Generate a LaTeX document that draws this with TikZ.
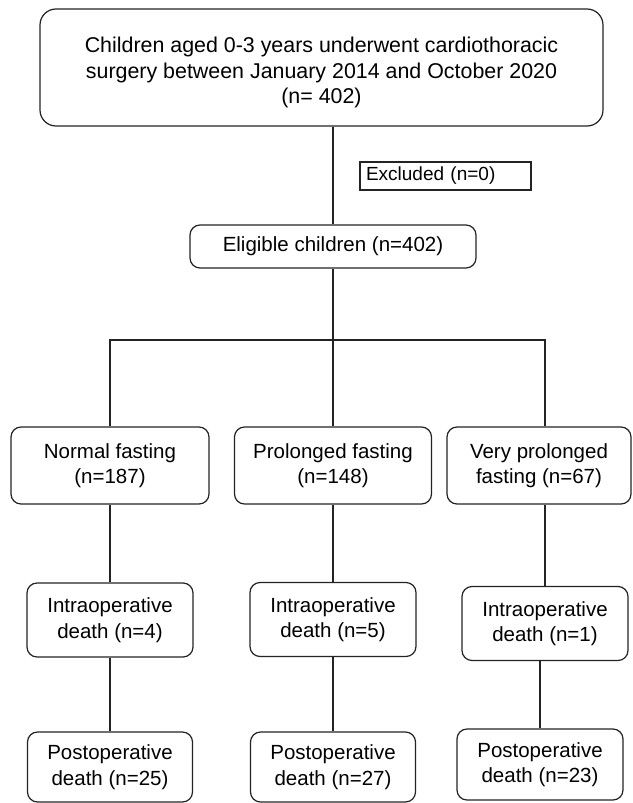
\documentclass[tikz,border=0pt]{standalone}
\usepackage{fontspec}
\setmainfont{Liberation Sans}
\usetikzlibrary{positioning}

\begin{document}
\begin{tikzpicture}[
    x=1pt, y=-1pt,
    font=\fontsize{20.5}{25.5}\selectfont,
    box/.style={rectangle, rounded corners=10pt, draw=edge, line width=1.2pt, align=center, inner sep=0pt},
    side/.style={rectangle, draw=edge, line width=1.2pt, align=left, inner xsep=6pt, inner ysep=0pt, font=\fontsize{19}{22}\selectfont},
    link/.style={draw=edge, line width=1.2pt}
]
\definecolor{edge}{RGB}{35,35,35}
\useasboundingbox (0,0) rectangle (632,803);

\node[box, rounded corners=16pt, minimum width=563pt, minimum height=117pt, font=\fontsize{21.4}{25.7}\selectfont] (cohort) at (321.5, 67.5)
    {\rule{0pt}{26pt}Children aged 0-3 years underwent cardiothoracic\\surgery between January 2014 and October 2020\\(n= 402)};
\node[side, text width=159pt, minimum height=28pt] (excl) at (445.5, 176) {Excluded (n=0)};
\node[box, minimum width=286pt, minimum height=43pt] (elig) at (333, 246.5) {Eligible children (n=402)};
\coordinate (split) at (333, 340);

\node[box, minimum width=198pt, minimum height=77pt] (normal) at (110, 465.5) {Normal fasting\\(n=187)};
\node[box, minimum width=197pt, minimum height=77pt] (prol) at (333, 465.5) {Prolonged fasting\\(n=148)};
\node[box, minimum width=184pt, minimum height=77pt] (vprol) at (539, 465.5) {Very prolonged\\fasting (n=67)};

\node[box, minimum width=166pt, minimum height=74pt] (intraA) at (110, 620) {Intraoperative\\death (n=4)};
\node[box, minimum width=166pt, minimum height=74pt] (intraB) at (333, 619.5) {Intraoperative\\death (n=5)};
\node[box, minimum width=166pt, minimum height=74pt] (intraC) at (545, 623.5) {Intraoperative\\death (n=1)};

\node[box, minimum width=165pt, minimum height=70pt] (postA) at (110, 767) {Postoperative\\death (n=25)};
\node[box, minimum width=165pt, minimum height=70pt] (postB) at (333, 767) {Postoperative\\death (n=27)};
\node[box, minimum width=166pt, minimum height=71pt] (postC) at (540, 764.5) {Postoperative\\death (n=23)};

\draw[link] (elig.north |- cohort.south) -- (elig.north);
\draw[link] (elig.south) -- (split);
\draw[link] (normal.north) |- (split) -| (vprol.north -| intraC.north);
\draw[link] (split) -- (prol.north);

\draw[link] (normal.south) -- (intraA.north);
\draw[link] (prol.south) -- (intraB.north);
\draw[link] (vprol.south -| intraC.north) -- (intraC.north);

\draw[link] (intraA.south) -- (postA.north);
\draw[link] (intraB.south) -- (postB.north);
\draw[link] (intraC.south -| postC.north) -- (postC.north);
\end{tikzpicture}
\end{document}
